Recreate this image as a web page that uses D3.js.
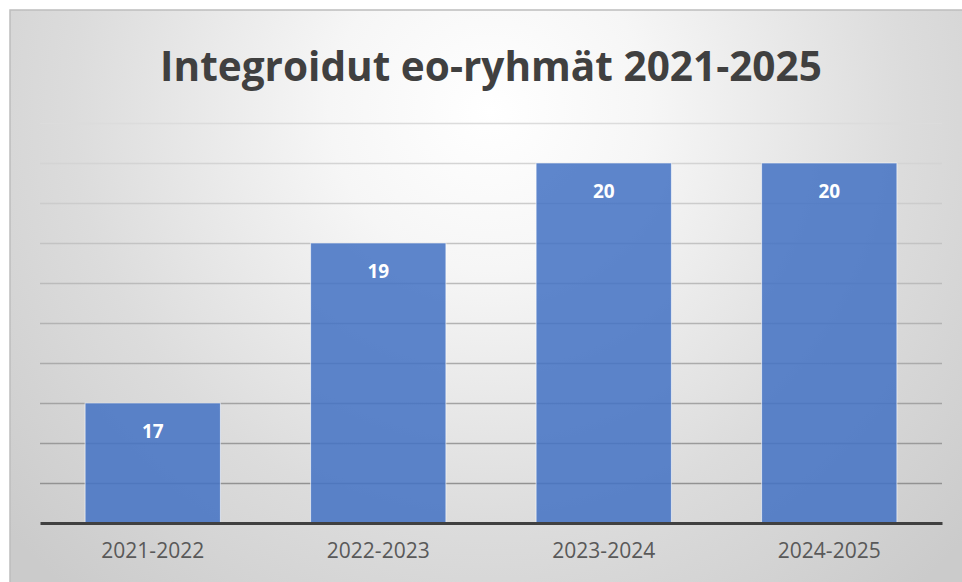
<!DOCTYPE html>
<html>
<head>
<meta charset="utf-8">
<script src="https://cdn.jsdelivr.net/npm/d3@7"></script>
<style>
  html, body { margin: 0; padding: 0; background: #fff; }
  #chart { width: 962px; height: 582px; }
</style>
</head>
<body>
<div id="chart"></div>
<script>
var categories = ["2021-2022", "2022-2023", "2023-2024", "2024-2025"];
var values = [17, 19, 20, 20];
var yDomainVals = [15.5, 20.5];
var titleText = "Integroidut eo-ryhmät 2021-2025";

var totalWidth = 962;
var totalHeight = 582;
var frame = { x: 10, y: 10 };
var margin = { top: 123, left: 40, bottom: 59, right: 20 };
var width = totalWidth - margin.left - margin.right;
var height = totalHeight - margin.top - margin.bottom;

var svg = d3.select("#chart").append("svg")
	.attr("width", totalWidth)
	.attr("height", totalHeight);

var defs = svg.append("defs");
var grad = defs.append("radialGradient")
	.attr("id", "bg")
	.attr("gradientUnits", "userSpaceOnUse")
	.attr("cx", 490).attr("cy", 110)
	.attr("r", 640);
grad.append("stop").attr("offset", "0%").attr("stop-color", "#ffffff");
grad.append("stop").attr("offset", "25%").attr("stop-color", "#f6f6f6");
grad.append("stop").attr("offset", "65%").attr("stop-color", "#dcdcdc");
grad.append("stop").attr("offset", "100%").attr("stop-color", "#cbcbcb");

svg.append("rect")
	.attr("x", frame.x)
	.attr("y", frame.y)
	.attr("width", totalWidth - frame.x + 2)
	.attr("height", totalHeight - frame.y + 2)
	.attr("fill", "url(#bg)")
	.attr("stroke", "#bdbdbd")
	.attr("stroke-width", 1.5);

var xScale = d3.scaleBand()
	.domain(categories)
	.range([0, width])
	.paddingInner(0.4)
	.paddingOuter(0.2);

var yScale = d3.scaleLinear()
	.domain(yDomainVals)
	.range([height, 0]);

var gridColor = d3.scaleLinear()
	.domain([0, height])
	.range(["#dcdcdc", "#8a8a8a"]);

var main = svg.append("g")
	.attr("transform", "translate(" + margin.left + "," + margin.top + ")");

// gridlines every 0.5
var ticks = d3.range(yDomainVals[0] + 0.5, yDomainVals[1] + 0.01, 0.5);
var yAxis = d3.axisLeft(yScale)
	.tickValues(ticks)
	.tickSize(-width)
	.tickFormat("");

main.append("g")
	.attr("class", "grid")
	.call(yAxis)
	.call(function (g) {
		g.select(".domain").remove();
		g.selectAll(".tick line")
			.attr("stroke", function (d) { return gridColor(yScale(d)); })
			.attr("stroke-width", 1.5);
	});

main.selectAll("rect.bar")
	.data(values)
	.enter()
	.append("rect")
	.attr("class", "bar")
	.attr("x", function (d, i) { return xScale(categories[i]); })
	.attr("y", function (d) { return yScale(d); })
	.attr("width", xScale.bandwidth())
	.attr("height", function (d) { return height - yScale(d); })
	.attr("fill", "#4472c4")
	.attr("fill-opacity", 0.86)
	.attr("stroke", "#ffffff")
	.attr("stroke-opacity", 0.6)
	.attr("stroke-width", 1);

main.selectAll("text.val")
	.data(values)
	.enter()
	.append("text")
	.attr("class", "val")
	.attr("x", function (d, i) { return xScale(categories[i]) + xScale.bandwidth() / 2; })
	.attr("y", function (d) { return yScale(d) + 28; })
	.attr("text-anchor", "middle")
	.attr("dominant-baseline", "central")
	.attr("fill", "#ffffff")
	.style("font-family", "'Open Sans', sans-serif")
	.style("font-weight", "bold")
	.style("font-size", "19px")
	.text(function (d) { return d; });

var xAxis = d3.axisBottom(xScale).tickSize(0).tickPadding(20);
main.append("g")
	.attr("transform", "translate(0," + height + ")")
	.call(xAxis)
	.call(function (g) {
		g.select(".domain")
			.attr("stroke", "#404040")
			.attr("stroke-width", 3);
		g.selectAll(".tick text")
			.attr("fill", "#595959")
			.style("font-family", "'Open Sans', sans-serif")
			.style("font-size", "21px");
	});

var title = svg.append("text")
	.attr("x", 491)
	.attr("y", 65)
	.attr("text-anchor", "middle")
	.attr("dominant-baseline", "central")
	.attr("fill", "#404040")
	.style("font-family", "'Open Sans', sans-serif")
	.style("font-weight", "bold")
	.style("font-size", "38px")
	.text(titleText);

// fit title to the width seen in the picture
var tw = title.node().getComputedTextLength();
title.style("font-size", (38 * 662 / tw) + "px");
</script>
</body>
</html>
